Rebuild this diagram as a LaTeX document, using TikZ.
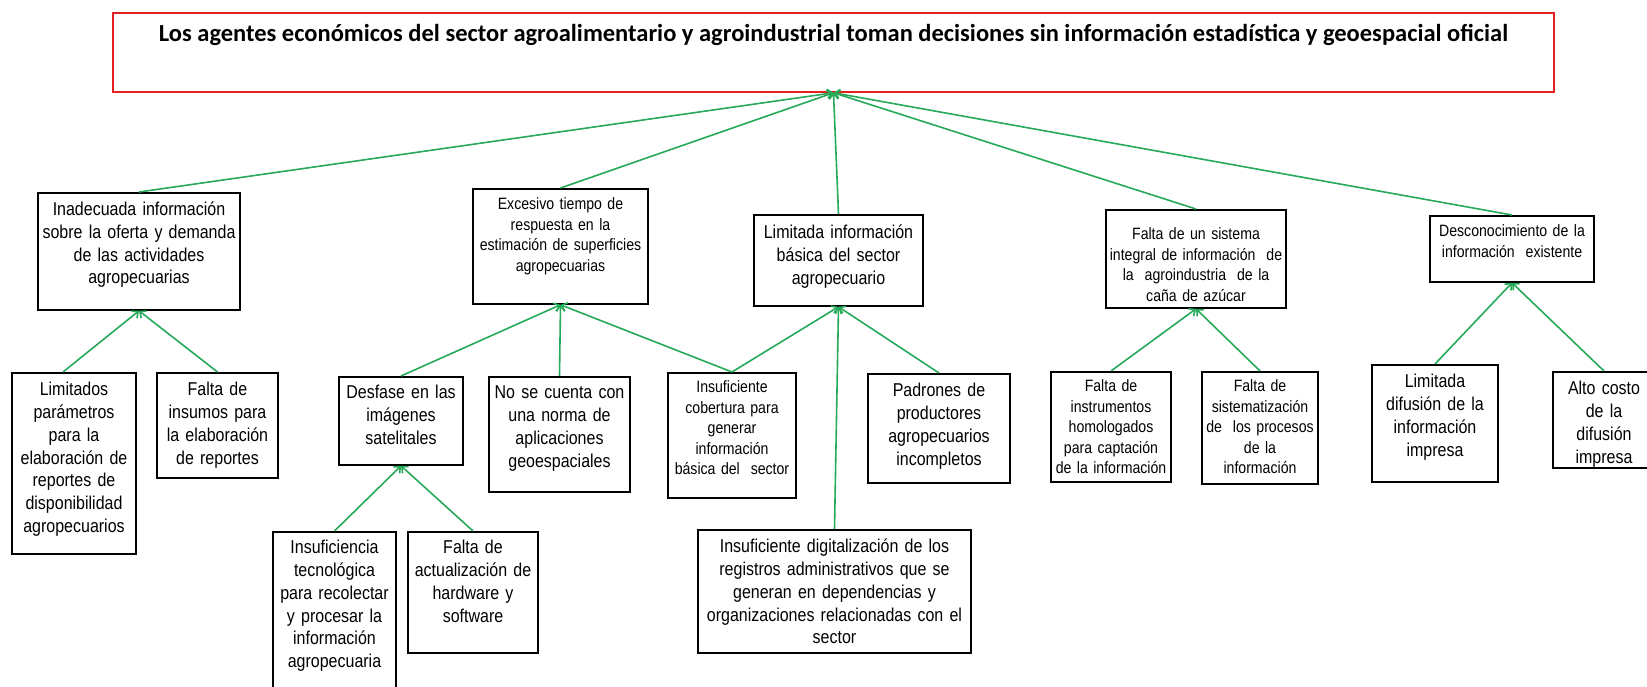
\documentclass[tikz,border=0pt]{standalone}
\usepackage{fontspec}
\setmainfont{Liberation Sans}[FakeStretch=0.86]
\newfontfamily\titulofont{Carlito}
\usepackage{tikz}
\usetikzlibrary{arrows,arrows.meta}
\definecolor{verdeflecha}{RGB}{38,170,90}
\definecolor{rojomarco}{RGB}{228,32,32}

\begin{document}
\begin{tikzpicture}[x=1pt, y=-1pt, causa/.style={draw, line width=1.8pt, align=center, inner xsep=1pt, inner ysep=0pt, anchor=north, text height=23pt, font=\fontsize{18.6}{22.7}\selectfont}]
            \tikzset{causachica/.style = {causa, text height=21pt, font=\fontsize{16.4}{20.4}\selectfont}}
            \tikzset{problema/.style = {draw=rojomarco, line width=1.8pt, anchor=north, inner sep=0pt, text height=29pt, font=\titulofont\bfseries\fontsize{24.5}{28}\selectfont}}
            \tikzset{flecha/.style = {-{Straight Barb[length=5pt,width=9pt]}, draw=verdeflecha, line width=1.6pt}}

            \useasboundingbox (0,0) rectangle (1647,687);

            \node[problema, minimum width=1441pt, text depth=50pt] (efecto) at (833.5,12) {Los agentes económicos del sector agroalimentario y agroindustrial toman decisiones sin información estadística y geoespacial oficial};

            % causas directas
            \node[causa, text width=200pt, text depth=94pt] (inadecuada) at (139,192) {Inadecuada información\\sobre la oferta y demanda\\de las actividades\\agropecuarias};
            \node[causachica, text width=173pt, text depth=94pt] (excesivo) at (560.5,188) {Excesivo tiempo de\\respuesta en la\\estimación de superficies\\agropecuarias};
            \node[causa, text width=167pt, text height=24pt, text depth=67pt] (limitada) at (838.5,214) {Limitada información\\básica del sector\\agropecuario};
            \node[causachica, text width=178pt, text height=30pt, text depth=68pt] (sistema) at (1196,209) {Falta de un sistema\\integral de información~ de\\la~ agroindustria~ de la\\caña de azúcar};
            \node[causachica, text width=162pt, text depth=45pt] (desconocimiento) at (1512,215) {Desconocimiento de la\\información~ existente};

            % causas secundarias
            \node[causa, text width=122pt, text depth=158pt] (parametros) at (74,372) {Limitados\\parámetros\\para la\\elaboración de\\reportes de\\disponibilidad\\agropecuarios};
            \node[causa, text width=119pt, text depth=82pt] (insumos) at (217.5,372) {Falta de\\insumos para\\la elaboración\\de reportes};
            \node[causa, text width=122pt, text height=22pt, text depth=66pt] (desfase) at (401,376) {Desfase en las\\imágenes\\satelitales};
            \node[causa, text width=139pt, text height=22pt, text depth=93pt] (norma) at (559.5,376) {No se cuenta con\\una norma de\\aplicaciones\\geoespaciales};
            \node[causachica, text width=126pt, text height=20pt, text depth=105pt] (cobertura) at (732,372) {Insuficiente\\cobertura para\\generar\\información\\básica del~ sector};
            \node[causa, text width=140pt, text depth=86pt] (padrones) at (939,373) {Padrones de\\productores\\agropecuarios\\incompletos};
            \node[causachica, text width=118pt, text height=20pt, text depth=90pt] (instrumentos) at (1111,371) {Falta de\\instrumentos\\homologados\\para captación\\de la información};
            \node[causachica, text width=114pt, text height=20pt, text depth=92pt] (sistematizacion) at (1260,371) {Falta de\\sistematización\\de~ los procesos\\de la\\información};
            \node[causa, text width=124pt, text depth=94pt] (difusion) at (1435,364) {Limitada\\difusión de la\\información\\impresa};
            \node[causa, text width=100pt, text depth=73pt] (costo) at (1604,371) {Alto costo\\de la\\difusión\\impresa};

            % tercer nivel
            \node[causa, text width=121pt, text height=22pt, text depth=143pt] (tecnologica) at (334.5,531) {Insuficiencia\\tecnológica\\para recolectar\\y procesar la\\información\\agropecuaria};
            \node[causa, text width=128pt, text height=22pt, text depth=99pt] (actualizacion) at (473,531) {Falta de\\actualización de\\hardware y\\software};
            \node[causa, text width=271pt, text depth=100pt] (digitalizacion) at (834.5,529) {Insuficiente digitalización de los\\registros administrativos que se\\generan en dependencias y\\organizaciones relacionadas con el\\sector};

            \draw [flecha] (inadecuada.north) to (efecto.south);
            \draw [flecha] (excesivo.north) to (efecto.south);
            \draw [flecha] (limitada.north) to (efecto.south);
            \draw [flecha] (sistema.north) to (efecto.south);
            \draw [flecha] (desconocimiento.north) to (efecto.south);

            \draw [flecha] ([xshift=-11pt]parametros.north) to (inadecuada.south);
            \draw [flecha] (insumos.north) to (inadecuada.south);
            \draw [flecha] (desfase.north) to (excesivo.south);
            \draw [flecha] (norma.north) to (excesivo.south);
            \draw [flecha] (cobertura.north) to (excesivo.south);
            \draw [flecha] (cobertura.north) to (limitada.south);
            \draw [flecha] (padrones.north) to (limitada.south);
            \draw [flecha] (digitalizacion.north) to (limitada.south);
            \draw [flecha] (tecnologica.north) to (desfase.south);
            \draw [flecha] (actualizacion.north) to (desfase.south);
            \draw [flecha] (instrumentos.north) to (sistema.south);
            \draw [flecha] (sistematizacion.north) to (sistema.south);
            \draw [flecha] (difusion.north) to (desconocimiento.south);
            \draw [flecha] (costo.north) to (desconocimiento.south);

            \end{tikzpicture}
\end{document}
